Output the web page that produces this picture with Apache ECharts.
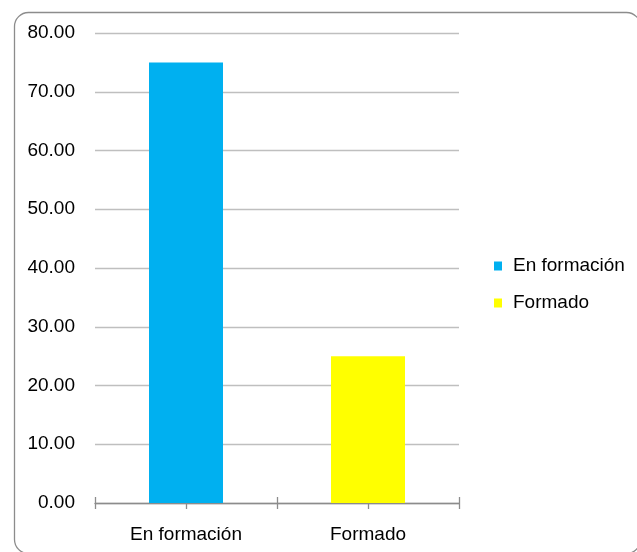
<!DOCTYPE html>
<html><head><meta charset="utf-8">
<script src="https://cdn.jsdelivr.net/npm/echarts@6/dist/echarts.min.js"></script>
<style>html,body{margin:0;padding:0;background:#fff}#c{width:637px;height:552px}</style>
</head><body><div id="c"></div>
<script>
var categories = ['En formación', 'Formado'];
var values = [75, 25];
var colors = ['#00B0F0', '#FFFF00'];
var yTicks = [0, 10, 20, 30, 40, 50, 60, 70, 80];

var FONT = 'Liberation Sans';
var chart = echarts.init(document.getElementById('c'));
var series = categories.map(function (name, i) {
  var d = categories.map(function (c, j) { return j === i ? values[i] : '-'; });
  return {
    name: name, type: 'bar', data: d, barWidth: 74, barGap: '-100%',
    itemStyle: { color: colors[i] }, xAxisIndex: 0
  };
});
chart.setOption({
  animation: false,
  textStyle: { fontFamily: FONT },
  graphic: [{
    type: 'rect', left: 12, top: 10, silent: true,
    shape: { x: 0, y: 0, width: 626, height: 541, r: 14 },
    style: { fill: 'none', stroke: '#8c8c8c', lineWidth: 1.3 }
  }],
  grid: { left: 95, top: 33, width: 364, height: 470, containLabel: false },
  legend: {
    orient: 'vertical', left: 494, top: 256, padding: 0, itemWidth: 8, itemHeight: 9, itemGap: 17,
    icon: 'rect', data: categories,
    textStyle: { fontFamily: FONT, fontSize: 19, lineHeight: 20, color: '#000', padding: [0, 0, 0, 6] }
  },
  xAxis: [{
    type: 'category', data: categories,
    axisLine: { lineStyle: { color: '#8c8c8c', width: 1.3 } },
    axisTick: { show: false },
    axisLabel: { fontFamily: FONT, fontSize: 19, color: '#000', margin: 22 }
  }, {
    type: 'category', data: ['', '', '', ''], position: 'bottom',
    axisLine: { show: false }, axisLabel: { show: false },
    axisTick: { show: true, length: 6, lineStyle: { color: '#8c8c8c', width: 1.3 } }
  }, {
    type: 'category', data: ['', '', '', ''], position: 'bottom',
    axisLine: { show: false }, axisLabel: { show: false },
    axisTick: { show: true, inside: true, length: 6, lineStyle: { color: '#8c8c8c', width: 1.3 } }
  }],
  yAxis: {
    type: 'value', min: yTicks[0], max: yTicks[yTicks.length - 1], interval: 10,
    axisLine: { show: false }, axisTick: { show: false },
    splitLine: { lineStyle: { color: '#bfbfbf', width: 1.3 } },
    axisLabel: { fontFamily: FONT, fontSize: 19, color: '#000', margin: 20,
      formatter: function (v) { return v.toFixed(2); } }
  },
  series: series
});
</script></body></html>
